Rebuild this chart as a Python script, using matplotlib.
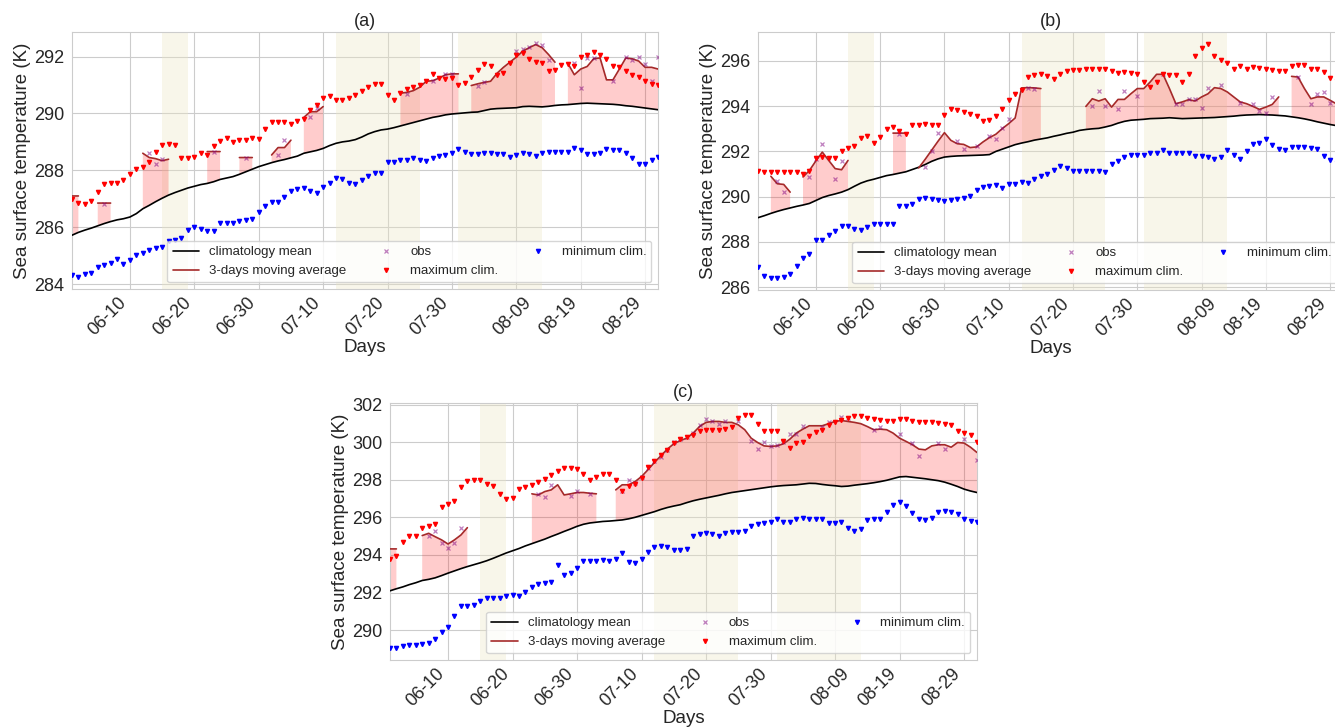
import numpy as np
import pandas as pd
import matplotlib
matplotlib.use('Agg')
import matplotlib.pyplot as plt
import matplotlib.transforms as mtransforms
import seaborn as sns

sns.set_style('whitegrid')
plt.rcParams['font.family'] = ['Liberation Sans', 'DejaVu Sans']

# days 06-01 .. 08-31
days = pd.date_range('2021-06-01', '2021-08-31', freq='D')
tick_days = days[9::10]
# beige periods (day index start, end)
hot_spans = [(14, 18), (41, 54), (60, 73)]

# ---------------- panel (a) ----------------
mean_a = [285.72, 285.82, 285.90, 285.97, 286.05, 286.13, 286.20, 286.26, 286.30, 286.36,
          286.48, 286.65, 286.77, 286.90, 287.02, 287.13, 287.22, 287.30, 287.38, 287.44,
          287.50, 287.54, 287.60, 287.68, 287.73, 287.78, 287.86, 287.95, 288.04, 288.13,
          288.20, 288.27, 288.33, 288.38, 288.44, 288.50, 288.60, 288.65, 288.70, 288.77,
          288.87, 288.95, 289.00, 289.03, 289.08, 289.17, 289.28, 289.36, 289.42, 289.45,
          289.50, 289.56, 289.62, 289.68, 289.74, 289.80, 289.86, 289.90, 289.95, 289.98,
          290.00, 290.02, 290.04, 290.05, 290.10, 290.15, 290.17, 290.18, 290.19, 290.20,
          290.24, 290.25, 290.24, 290.23, 290.25, 290.28, 290.30, 290.31, 290.33, 290.35,
          290.36, 290.35, 290.34, 290.33, 290.32, 290.30, 290.27, 290.25, 290.22, 290.19,
          290.16, 290.13]
max_a = [287.00, 286.87, 286.80, 286.92, 287.25, 287.52, 287.56, 287.56, 287.66, 287.86,
         288.03, 288.12, 288.28, 288.66, 288.89, 288.92, 288.89, 288.42, 288.42, 288.47,
         288.62, 288.53, 288.86, 289.04, 289.15, 289.00, 289.06, 289.07, 289.13, 289.10,
         289.45, 289.69, 289.69, 289.69, 289.62, 289.74, 289.80, 290.12, 290.30, 290.55,
         290.60, 290.48, 290.47, 290.53, 290.65, 290.80, 290.94, 291.04, 291.04, 290.65,
         290.48, 290.72, 290.86, 290.92, 291.00, 291.13, 291.39, 291.24, 291.21, 291.24,
         291.00, 291.07, 291.29, 291.54, 291.74, 291.68, 291.34, 291.42, 291.78, 292.07,
         292.12, 291.92, 291.80, 291.78, 291.50, 291.54, 291.70, 291.73, 291.66, 291.98,
         292.07, 292.15, 292.07, 291.90, 291.68, 291.62, 291.48, 291.36, 291.27, 291.15,
         291.04, 291.00]
min_a = [284.33, 284.24, 284.35, 284.39, 284.62, 284.68, 284.76, 284.88, 284.72, 284.86,
         285.01, 285.09, 285.21, 285.27, 285.32, 285.50, 285.56, 285.62, 285.92, 286.00,
         285.94, 285.87, 285.88, 286.14, 286.15, 286.16, 286.22, 286.24, 286.28, 286.52,
         286.74, 286.88, 286.88, 287.05, 287.27, 287.34, 287.39, 287.29, 287.21, 287.41,
         287.55, 287.74, 287.69, 287.54, 287.53, 287.65, 287.81, 287.89, 287.92, 288.29,
         288.29, 288.36, 288.36, 288.45, 288.35, 288.33, 288.45, 288.51, 288.53, 288.62,
         288.76, 288.66, 288.59, 288.56, 288.60, 288.60, 288.56, 288.56, 288.48, 288.54,
         288.60, 288.56, 288.51, 288.60, 288.66, 288.66, 288.66, 288.66, 288.80, 288.71,
         288.59, 288.59, 288.62, 288.74, 288.71, 288.71, 288.62, 288.42, 288.24, 288.21,
         288.35, 288.48]
# 3-days moving average during events: (first day index, values)
ma_a = [(0, [287.10, 287.10]),
        (4, [286.85, 286.85, 286.85]),
        (11, [288.60, 288.45, 288.41, 288.34, 288.39]),
        (21, [288.66, 288.66, 288.66]),
        (26, [288.45, 288.45, 288.45]),
        (31, [288.54, 288.80, 288.80, 289.06]),
        (36, [289.86, 290.06, 290.06, 290.24]),
        (51, [290.71, 290.74, 290.80, 290.92, 291.13, 291.15, 291.24, 291.36, 291.39, 291.39]),
        (62, [290.98, 291.04, 291.09, 291.13, 291.41, 291.62, 291.80, 291.98, 292.19, 292.31,
              292.42, 292.31, 292.07, 291.80]),
        (77, [291.76, 291.36, 291.56, 291.65, 291.92, 291.95, 291.18, 291.18, 291.56, 291.95,
              291.92, 291.84, 291.62, 291.62, 291.56])]
obs_a = {5: 286.83, 12: 288.60, 13: 288.22, 14: 288.40, 22: 288.65, 27: 288.45, 32: 288.54,
         33: 289.06, 37: 289.89, 38: 290.20, 52: 290.67, 56: 291.13, 58: 291.39, 59: 291.39,
         63: 290.98, 64: 291.10, 69: 292.19, 70: 292.27, 71: 292.35, 72: 292.46, 73: 292.40,
         74: 291.86, 78: 291.78, 79: 290.91, 80: 291.95, 81: 291.95, 84: 291.14, 86: 291.97,
         87: 291.88, 88: 291.98, 89: 291.75, 90: 291.14, 91: 292.00}

# ---------------- panel (b) ----------------
mean_b = [289.07, 289.16, 289.26, 289.35, 289.43, 289.50, 289.57, 289.63, 289.70, 289.83,
          289.96, 290.05, 290.12, 290.20, 290.31, 290.46, 290.60, 290.70, 290.77, 290.85,
          290.93, 290.98, 291.04, 291.10, 291.20, 291.30, 291.42, 291.56, 291.67, 291.75,
          291.78, 291.80, 291.81, 291.82, 291.83, 291.84, 291.86, 292.00, 292.10, 292.20,
          292.30, 292.37, 292.43, 292.50, 292.55, 292.60, 292.67, 292.73, 292.80, 292.85,
          292.93, 292.97, 293.00, 293.02, 293.08, 293.15, 293.25, 293.33, 293.38, 293.40,
          293.42, 293.45, 293.46, 293.47, 293.49, 293.47, 293.45, 293.46, 293.47, 293.48,
          293.49, 293.50, 293.52, 293.54, 293.56, 293.59, 293.61, 293.62, 293.63, 293.62,
          293.61, 293.59, 293.57, 293.53, 293.49, 293.44, 293.38, 293.31, 293.25, 293.19,
          293.14, 293.10]
max_b = [291.13, 291.09, 291.09, 291.09, 291.09, 291.09, 291.09, 290.99, 291.13, 291.71,
         291.75, 291.69, 291.71, 292.00, 292.17, 292.22, 292.61, 292.67, 292.39, 292.64,
         293.00, 293.10, 292.90, 292.76, 293.15, 293.15, 293.23, 293.15, 293.15, 293.63,
         293.86, 293.82, 293.74, 293.67, 293.58, 293.35, 293.37, 293.57, 293.86, 294.29,
         294.55, 294.70, 295.29, 295.40, 295.42, 295.32, 295.22, 295.44, 295.56, 295.62,
         295.62, 295.65, 295.66, 295.66, 295.66, 295.56, 295.47, 295.50, 295.48, 295.41,
         295.07, 294.85, 295.07, 295.44, 295.37, 295.37, 295.07, 295.44, 296.20, 296.59,
         296.74, 296.20, 296.06, 295.91, 295.66, 295.76, 295.66, 295.73, 295.69, 295.66,
         295.62, 295.56, 295.54, 295.76, 295.81, 295.81, 295.66, 295.63, 295.50, 295.23,
         295.10, 295.00]
min_b = [286.90, 286.49, 286.41, 286.41, 286.44, 286.59, 286.93, 287.27, 287.45, 288.09,
         288.09, 288.31, 288.46, 288.68, 288.71, 288.56, 288.53, 288.67, 288.81, 288.81,
         288.81, 288.81, 289.57, 289.60, 289.68, 289.88, 289.92, 289.88, 289.84, 289.79,
         289.87, 289.88, 289.92, 290.05, 290.31, 290.42, 290.46, 290.51, 290.40, 290.54,
         290.57, 290.65, 290.60, 290.76, 290.91, 290.98, 291.19, 291.34, 291.28, 291.12,
         291.12, 291.12, 291.13, 291.12, 291.09, 291.46, 291.58, 291.75, 291.86, 291.86,
         291.86, 291.93, 291.94, 292.08, 291.94, 291.93, 291.94, 291.93, 291.81, 291.78,
         291.75, 291.65, 291.75, 292.05, 291.83, 291.68, 292.02, 292.34, 292.39, 292.53,
         292.27, 292.09, 292.08, 292.19, 292.19, 292.19, 292.17, 292.09, 291.80, 291.63,
         291.50, 291.40]
ma_b = [(2, [290.90, 290.57, 290.54, 290.20]),
        (7, [290.87, 291.16, 291.58, 291.97, 291.60, 291.24, 291.19, 291.60]),
        (21, [292.81, 292.81, 292.81]),
        (25, [291.27, 291.65, 292.05, 292.45, 292.83, 292.49, 292.34, 292.31, 292.17, 292.20,
              292.42, 292.61, 292.76, 293.01, 293.23, 293.48, 294.81, 294.82, 294.81, 294.78]),
        (51, [293.99, 294.33, 294.23, 294.33, 293.96, 294.30, 294.30, 294.55, 294.78, 294.78,
              295.07, 295.41, 295.41, 294.78, 294.11, 294.19, 294.29, 294.23, 294.41, 294.55,
              294.82, 294.78, 294.63, 294.41, 294.19, 294.11, 293.99, 293.86, 293.96, 294.08,
              294.41]),
        (83, [295.32, 295.29, 294.78, 294.33, 294.41, 294.41, 294.26, 294.10, 294.00])]
obs_b = {3: 290.70, 4: 290.20, 8: 290.85, 9: 291.65, 10: 292.32, 12: 290.76, 13: 291.59,
         22: 292.78, 26: 291.31, 27: 292.00, 28: 292.83, 31: 292.45, 32: 292.10, 34: 292.22,
         36: 292.66, 37: 292.56, 38: 293.04, 39: 293.45, 42: 294.82, 43: 294.75, 52: 293.99,
         53: 294.66, 54: 293.99, 56: 293.89, 57: 294.67, 59: 294.45, 63: 295.44, 65: 294.08,
         66: 294.11, 67: 294.30, 68: 294.30, 69: 293.93, 70: 294.82, 72: 294.93, 75: 294.14,
         77: 294.10, 78: 293.78, 79: 293.71, 80: 294.42, 84: 295.30, 86: 294.10, 87: 294.52,
         88: 294.64, 89: 294.14}

# ---------------- panel (c) ----------------
mean_c = [292.09, 292.20, 292.30, 292.42, 292.52, 292.64, 292.70, 292.78, 292.90, 293.03,
          293.15, 293.27, 293.38, 293.48, 293.58, 293.69, 293.82, 293.96, 294.10, 294.22,
          294.34, 294.48, 294.60, 294.72, 294.84, 294.98, 295.11, 295.25, 295.38, 295.52,
          295.63, 295.70, 295.74, 295.78, 295.80, 295.83, 295.86, 295.92, 296.00, 296.10,
          296.20, 296.30, 296.42, 296.52, 296.60, 296.67, 296.78, 296.88, 296.96, 297.03,
          297.10, 297.17, 297.25, 297.32, 297.37, 297.42, 297.47, 297.52, 297.57, 297.62,
          297.66, 297.69, 297.71, 297.73, 297.77, 297.81, 297.80, 297.75, 297.71, 297.68,
          297.64, 297.66, 297.71, 297.75, 297.79, 297.84, 297.90, 297.97, 298.06, 298.15,
          298.17, 298.13, 298.09, 298.05, 298.00, 297.95, 297.87, 297.76, 297.64, 297.50,
          297.40, 297.32]
max_c = [293.80, 293.92, 294.67, 295.02, 295.02, 295.43, 295.56, 295.64, 296.53, 296.71,
         296.89, 297.60, 297.92, 297.96, 297.96, 297.78, 297.69, 297.24, 296.98, 297.01,
         297.51, 297.60, 297.72, 297.87, 298.04, 298.26, 298.44, 298.63, 298.61, 298.58,
         298.31, 298.01, 298.17, 298.31, 298.31, 298.01, 297.39, 297.69, 297.78, 298.10,
         298.67, 299.02, 299.29, 299.56, 299.95, 300.16, 300.27, 300.39, 300.57, 300.62,
         300.62, 300.62, 300.69, 300.83, 301.28, 301.46, 301.46, 300.98, 300.57, 300.57,
         300.57, 300.04, 299.68, 299.95, 299.98, 300.34, 300.52, 300.62, 300.92, 301.05,
         301.19, 301.28, 301.37, 301.37, 301.28, 301.23, 301.19, 301.15, 301.15, 301.23,
         301.23, 301.15, 301.05, 301.05, 301.05, 301.01, 300.98, 300.92, 300.57, 300.48,
         300.39, 299.98]
min_c = [289.03, 289.07, 289.16, 289.21, 289.21, 289.24, 289.33, 289.55, 289.90, 290.17,
         290.76, 291.29, 291.29, 291.32, 291.56, 291.73, 291.70, 291.70, 291.79, 291.88,
         291.82, 292.05, 292.30, 292.44, 292.48, 292.57, 293.46, 292.94, 293.03, 293.33,
         293.69, 293.65, 293.65, 293.74, 293.65, 293.78, 294.08, 293.60, 293.55, 293.78,
         294.13, 294.40, 294.50, 294.43, 294.26, 294.24, 294.32, 295.01, 295.12, 295.15,
         295.10, 295.03, 295.15, 295.20, 295.24, 295.28, 295.54, 295.65, 295.68, 295.74,
         295.90, 295.77, 295.77, 295.91, 295.95, 295.91, 295.91, 295.91, 295.72, 295.72,
         295.77, 295.42, 295.28, 295.37, 295.86, 295.90, 295.91, 296.27, 296.66, 296.80,
         296.61, 296.25, 295.91, 295.86, 295.99, 296.27, 296.31, 296.27, 296.16, 295.91,
         295.83, 295.77]
ma_c = [(0, [294.32, 294.32]),
        (5, [295.03, 295.15, 294.97, 294.80, 294.58, 294.80, 295.06, 295.45]),
        (22, [297.25, 297.19, 297.37, 297.46, 297.73, 297.19, 297.25, 297.32, 297.32, 297.28,
              297.25]),
        (35, [297.46, 297.73, 297.73, 297.90, 298.17, 298.53, 298.92, 299.27, 299.63, 299.91,
              300.08, 300.21, 300.48, 300.83, 301.05, 301.10, 301.10, 301.05, 301.05, 300.92,
              300.66, 300.21, 299.98, 299.80, 299.77, 299.80, 299.91, 300.16, 300.48, 300.69,
              300.87, 300.87, 300.87, 300.98, 301.10, 301.15, 301.10, 301.05, 300.98, 300.83,
              300.66, 300.69, 300.66, 300.48, 300.21, 300.04, 299.86, 299.63, 299.59, 299.80,
              299.86, 299.86, 299.73, 299.98, 299.95, 299.73, 299.45])]
obs_c = {6: 295.03, 7: 295.29, 8: 294.65, 9: 294.38, 10: 294.65, 11: 295.43, 23: 297.26,
         24: 297.07, 25: 297.72, 28: 297.15, 29: 297.40, 31: 297.23, 36: 297.42, 37: 297.96,
         38: 297.82, 39: 298.13, 40: 298.60, 41: 299.00, 42: 299.20, 43: 299.60, 44: 299.98,
         45: 300.16, 46: 300.27, 47: 300.50, 48: 300.90, 49: 301.23, 50: 301.15, 51: 300.98,
         52: 301.15, 54: 301.10, 56: 300.04, 57: 299.63, 58: 299.98, 59: 299.77, 60: 299.86,
         61: 299.98, 62: 300.43, 63: 300.43, 64: 300.87, 67: 300.83, 68: 301.05, 70: 301.33,
         71: 301.28, 75: 300.62, 76: 300.83, 79: 300.43, 81: 299.95, 82: 299.27, 85: 299.95,
         86: 299.63, 89: 300.16, 91: 299.06}


def full_series(segments):
    arr = np.full(len(days), np.nan)
    for start, vals in segments:
        arr[start:start + len(vals)] = vals
    return arr


def obs_series(points):
    arr = np.full(len(days), np.nan)
    for d, v in points.items():
        arr[d] = v
    return arr


def draw_panel(ax, title, mean, mx, mn, ma_segs, obs_pts, ylim):
    ma = full_series(ma_segs)
    obs = obs_series(obs_pts)
    mean = np.array(mean)
    for s, e in hot_spans:
        ax.axvspan(days[s], days[e], color='#ede6c4', alpha=0.35, lw=0, zorder=1)
    ax.fill_between(days, mean, ma, where=np.isfinite(ma), color='red', alpha=0.2,
                    lw=0, zorder=2)
    ax.plot(days, mean, color='black', lw=1.2, label='climatology mean', zorder=3)
    ax.plot(days, ma, color='brown', lw=1.2, label='3-days moving average', zorder=4)
    ax.plot(days, obs, 'x', color='purple', alpha=0.5, ms=3.5, mew=0.9,
            label='obs', zorder=5)
    ax.plot(days, mx, 'v', color='red', ms=3, label='maximum clim.', zorder=5)
    ax.plot(days, mn, 'v', color='blue', ms=3, label='minimum clim.', zorder=5)

    ax.set_xlim(days[0], days[-1])
    ax.set_ylim(*ylim)
    ax.set_xticks(tick_days)
    ax.set_xticklabels([d.strftime('%m-%d') for d in tick_days],
                       rotation=45, ha='right')
    ax.tick_params(axis='x', labelsize=13, pad=0)
    ax.tick_params(axis='y', labelsize=13, pad=2)
    # the 08-09 label sits a bit to the right in the original
    shift = mtransforms.ScaledTranslation(0.18, 0, ax.figure.dpi_scale_trans)
    lab = ax.get_xticklabels()[6]
    lab.set_transform(lab.get_transform() + shift)
    ax.set_xlabel('Days', fontsize=13.5, labelpad=0)
    ax.set_ylabel('Sea surface temperature (K)', fontsize=13.5, labelpad=2)
    ax.set_title(title, fontsize=13, pad=4)
    ax.legend(loc='lower right', ncol=3, fontsize=9.5)


fig = plt.figure(figsize=(13.35, 7.28), dpi=100)
ax_a = fig.add_axes([0.0539, 0.6030, 0.4390, 0.3530])
ax_b = fig.add_axes([0.5678, 0.6016, 0.4382, 0.3544])
ax_c = fig.add_axes([0.2921, 0.0934, 0.4397, 0.3530])

draw_panel(ax_a, '(a)', mean_a, max_a, min_a, ma_a, obs_a, (283.83, 292.86))
draw_panel(ax_b, '(b)', mean_b, max_b, min_b, ma_b, obs_b, (285.87, 297.28))
draw_panel(ax_c, '(c)', mean_c, max_c, min_c, ma_c, obs_c, (288.41, 302.08))

fig.savefig('out.png', dpi=100)
